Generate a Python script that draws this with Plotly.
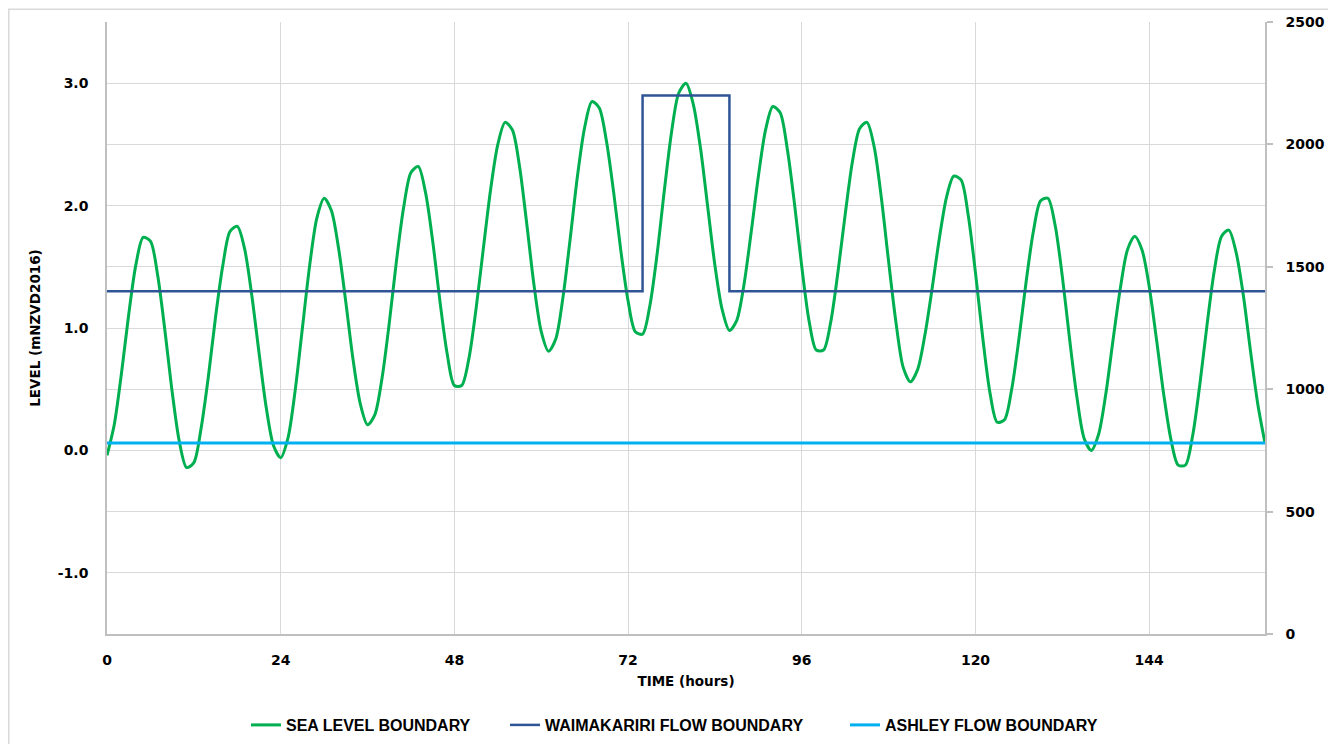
import plotly.graph_objects as go

# ---- data ----
hours = list(range(0, 161))
sea_level = [
    -0.04, 0.21, 0.63, 1.11, 1.52, 1.74,
    1.71, 1.43, 0.98, 0.48, 0.07, -0.14,
    -0.10, 0.18, 0.60, 1.09, 1.51, 1.79,
    1.83, 1.65, 1.27, 0.80, 0.35, 0.04,
    -0.06, 0.10, 0.49, 1.00, 1.51, 1.90, 2.06,
    1.96, 1.65, 1.21, 0.74, 0.38, 0.21,
    0.29, 0.59, 1.04, 1.55, 1.99, 2.27,
    2.32, 2.11, 1.71, 1.22, 0.79, 0.53,
    0.53, 0.75, 1.16, 1.65, 2.13, 2.50, 2.68,
    2.62, 2.32, 1.85, 1.35, 0.97, 0.81,
    0.91, 1.25, 1.73, 2.24, 2.64, 2.85,
    2.80, 2.53, 2.11, 1.63, 1.22, 0.97,
    0.95, 1.18, 1.60, 2.12, 2.60, 2.92, 3.00,
    2.83, 2.47, 1.99, 1.51, 1.15, 0.98,
    1.06, 1.35, 1.78, 2.24, 2.62, 2.81,
    2.76, 2.46, 2.01, 1.50, 1.06, 0.82,
    0.82, 1.05, 1.46, 1.93, 2.36, 2.63,
    2.68, 2.48, 2.06, 1.54, 1.05, 0.68, 0.56,
    0.66, 0.94, 1.32, 1.73, 2.07, 2.24,
    2.21, 1.92, 1.45, 0.92, 0.47, 0.23,
    0.25, 0.50, 0.91, 1.38, 1.79, 2.04,
    2.06, 1.84, 1.42, 0.91, 0.44, 0.10, 0.00,
    0.13, 0.46, 0.90, 1.32, 1.64, 1.75,
    1.64, 1.34, 0.91, 0.46, 0.09, -0.12,
    -0.12, 0.12, 0.54, 1.03, 1.47, 1.75,
    1.80, 1.62, 1.27, 0.81, 0.38, 0.06,
]

waimak_hours = [0, 74, 86, 160]
waimak_flow = [1400, 2200, 1400, 1400]

ashley_hours = [0, 160]
ashley_flow = [780, 780]

x_ticks = [0, 24, 48, 72, 96, 120, 144]
left_ticks = [-1.0, 0.0, 1.0, 2.0, 3.0]
left_ticktext = ["-1.0", "0.0", "1.0", "2.0", "3.0"]
right_ticks = [0, 500, 1000, 1500, 2000, 2500]

names = ["SEA LEVEL BOUNDARY", "WAIMAKARIRI FLOW BOUNDARY", "ASHLEY FLOW BOUNDARY"]

# ---- figure ----
fig = go.Figure()
fig.add_trace(go.Scatter(
    x=hours, y=sea_level, name=names[0], mode="lines",
    line=dict(color="#00b050", width=3, shape="spline", smoothing=0.8),
    yaxis="y", legend="legend"))
fig.add_trace(go.Scatter(
    x=waimak_hours, y=waimak_flow, name=names[1], mode="lines",
    line=dict(color="#2f5597", width=2.5, shape="hv"),
    yaxis="y2", legend="legend2"))
fig.add_trace(go.Scatter(
    x=ashley_hours, y=ashley_flow, name=names[2], mode="lines",
    line=dict(color="#00b0f0", width=3),
    yaxis="y2", legend="legend3"))

tick_font = dict(family="DejaVu Sans", size=14, color="#000000", weight="bold")
title_font = dict(family="DejaVu Sans", size=13.5, color="#000000", weight="bold")
legend_font = dict(family="Liberation Sans", size=16, color="#000000", weight="bold")
grid = "#d9d9d9"

def leg(x):
    return dict(orientation="h", x=x, xanchor="left", y=-0.1487, yanchor="middle",
                font=legend_font, itemwidth=30, bgcolor="rgba(0,0,0,0)")

fig.update_layout(
    width=1328, height=736,
    margin=dict(l=99, r=71, t=14, b=110, autoexpand=False),
    paper_bgcolor="white", plot_bgcolor="white",
    showlegend=True,
    legend=leg(0.1200), legend2=leg(0.3437), legend3=leg(0.6373),
    xaxis=dict(range=[0, 160], tickvals=x_ticks, showgrid=True, gridcolor=grid, gridwidth=1,
               showline=True, linecolor="#bfbfbf", linewidth=1.5, zeroline=False,
               ticks="", tickfont=tick_font, ticklabelstandoff=12, automargin=False,
               title=dict(text="TIME (hours)", font=title_font, standoff=10)),
    yaxis=dict(range=[-1.5, 3.5], tickvals=left_ticks, ticktext=left_ticktext,
               showgrid=True, gridcolor=grid, gridwidth=1, zeroline=False,
               showline=True, linecolor="#bfbfbf", linewidth=1.5, automargin=False,
               ticks="", tickfont=tick_font, ticklabelstandoff=14,
               title=dict(text="LEVEL (mNZVD2016)", font=title_font, standoff=14)),
    yaxis2=dict(range=[0, 2500], tickvals=right_ticks,
                overlaying="y", side="right", showgrid=True, gridcolor=grid, gridwidth=1,
                zeroline=False, showline=True, linecolor="#bfbfbf", linewidth=1.5,
                ticks="outside", ticklen=6, tickcolor="#bfbfbf", tickwidth=1.5,
                tickfont=tick_font, ticklabelstandoff=10, automargin=False),
    shapes=[dict(type="rect", xref="paper", yref="paper",
                 x0=-0.0848, x1=1.0579, y0=-0.19, y1=1.021,
                 line=dict(color="#d9d9d9", width=1.5), fillcolor="rgba(0,0,0,0)", layer="below")],
)

fig.write_html("out.html")
